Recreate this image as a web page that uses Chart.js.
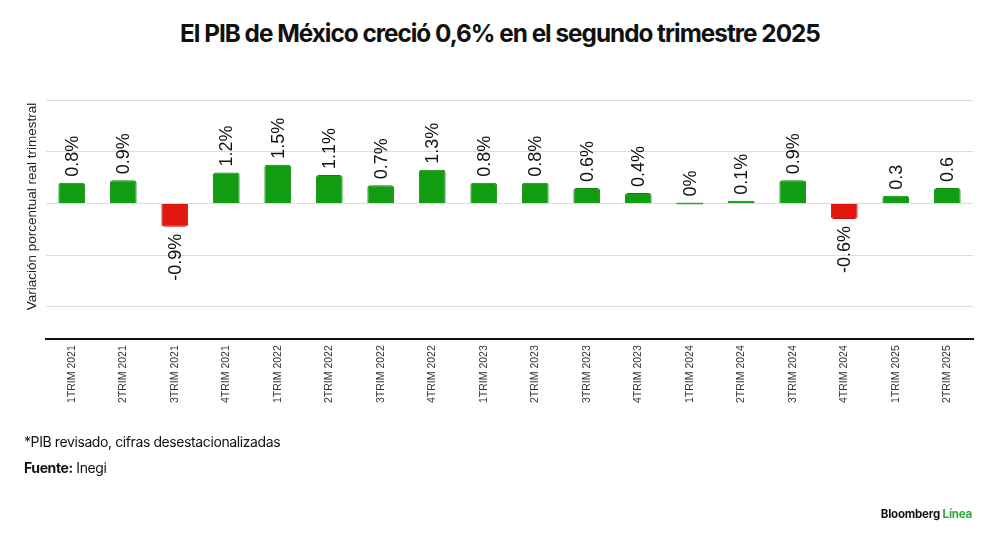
<!DOCTYPE html>
<html>
<head>
<meta charset="utf-8">
<script src="https://cdn.jsdelivr.net/npm/chart.js@4.4.1/dist/chart.umd.min.js"></script>
<style>
  html, body { margin: 0; padding: 0; background: #fff; }
  body { width: 1000px; height: 543px; position: relative; overflow: hidden; font-family: Inter, "Liberation Sans", Arial, sans-serif; color: #111; }
  #title { position: absolute; left: 0; top: 18px; width: 1000px; text-align: center; font-weight: 700; font-size: 24.3px; letter-spacing: -1px; color: #111; }
  #wrap { position: absolute; left: 0; top: 0; width: 1000px; height: 543px; }
  #note { position: absolute; left: 24px; top: 433px; font-size: 14px; letter-spacing: -0.4px; color: #111; }
  #src { position: absolute; left: 24px; top: 459px; font-size: 14px; letter-spacing: -0.4px; color: #111; }
  #logo { position: absolute; right: 28px; top: 507px; font-size: 11.5px; font-weight: 700; letter-spacing: -0.2px; color: #111; }
  #logo span { color: #2ea83a; }
</style>
</head>
<body>
<div id="title">El PIB de México creció 0,6% en el segundo trimestre 2025</div>
<div id="wrap"><canvas id="c" width="1000" height="543"></canvas></div>
<div id="note">*PIB revisado, cifras desestacionalizadas</div>
<div id="src"><b>Fuente:</b> Inegi</div>
<div id="logo">Bloomberg <span>Línea</span></div>
<script>
const categories = ["1TRIM 2021","2TRIM 2021","3TRIM 2021","4TRIM 2021","1TRIM 2022","2TRIM 2022","3TRIM 2022","4TRIM 2022","1TRIM 2023","2TRIM 2023","3TRIM 2023","4TRIM 2023","1TRIM 2024","2TRIM 2024","3TRIM 2024","4TRIM 2024","1TRIM 2025","2TRIM 2025"];
const values = [0.8, 0.9, -0.9, 1.2, 1.5, 1.1, 0.7, 1.3, 0.8, 0.8, 0.6, 0.4, 0, 0.1, 0.9, -0.6, 0.3, 0.6];
const valueLabels = ["0.8%","0.9%","-0.9%","1.2%","1.5%","1.1%","0.7%","1.3%","0.8%","0.8%","0.6%","0.4%","0%","0.1%","0.9%","-0.6%","0.3","0.6"];
const gridTicks = [4, 2, 0, -2, -4];
const yTitle = "Variación porcentual real trimestral";

const GREEN = "#129c12", GREEN_B = "#0b860b", RED = "#e2170f", RED_B = "#c40f0a";

const valueLabelPlugin = {
  id: "valueLabels",
  afterDatasetsDraw(chart) {
    const ctx = chart.ctx;
    const meta = chart.getDatasetMeta(0);
    ctx.save();
    ctx.font = '18px "Liberation Sans", Arial, sans-serif';
    ctx.fillStyle = "#111";
    ctx.textBaseline = "middle";
    meta.data.forEach((bar, i) => {
      const v = values[i];
      ctx.save();
      if (v >= 0) {
        ctx.translate(bar.x, Math.min(bar.y, bar.base) - 6);
        ctx.rotate(-Math.PI / 2);
        ctx.textAlign = "left";
      } else {
        ctx.translate(bar.x, Math.max(bar.y, bar.base) + 7);
        ctx.rotate(-Math.PI / 2);
        ctx.textAlign = "right";
      }
      ctx.fillText(valueLabels[i], 0, 1);
      ctx.restore();
    });
    // y axis title
    const zeroY = chart.scales.y.getPixelForValue(0);
    ctx.translate(chart.chartArea.left - 14, zeroY + 3);
    ctx.rotate(-Math.PI / 2);
    ctx.textAlign = "center";
    ctx.font = '13.5px "Liberation Sans", Arial, sans-serif';
    ctx.fillStyle = "#222";
    ctx.fillText(yTitle, 0, 0);
    ctx.restore();
  }
};

new Chart(document.getElementById("c"), {
  type: "bar",
  data: {
    labels: categories,
    datasets: [{
      data: values,
      backgroundColor: values.map(v => v < 0 ? RED : GREEN),
      borderColor: values.map(v => v < 0 ? RED_B : GREEN_B),
      borderWidth: 1,
      borderRadius: 3,
      minBarLength: 2,
      barPercentage: 0.52,
      categoryPercentage: 1
    }]
  },
  options: {
    responsive: false,
    animation: false,
    devicePixelRatio: 1,
    layout: { padding: { left: 46, right: 27, top: 100, bottom: 134 } },
    plugins: { legend: { display: false }, tooltip: { enabled: false }, title: { display: false } },
    scales: {
      x: {
        grid: { display: false, drawTicks: false },
        border: { display: true, color: "#111", width: 2 },
        ticks: { maxRotation: 90, minRotation: 90, padding: 6, color: "#333", font: { family: '"Liberation Sans", Arial, sans-serif', size: 10.5 } }
      },
      y: {
        min: -5.25,
        max: 4,
        afterBuildTicks(axis) { axis.ticks = gridTicks.map(v => ({ value: v })); },
        grid: { color: "#dcdcdc", lineWidth: 1, drawTicks: false },
        border: { display: false },
        ticks: { display: false },
        title: { display: false }
      }
    }
  },
  plugins: [valueLabelPlugin]
});
</script>
</body>
</html>
